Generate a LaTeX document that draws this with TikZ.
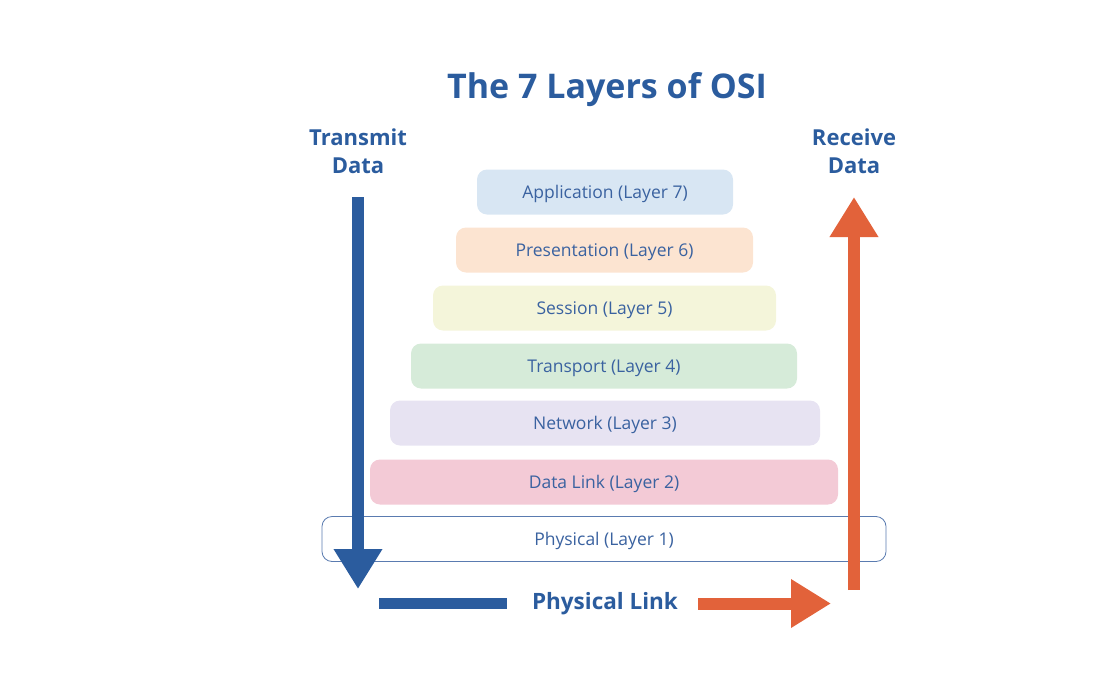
\documentclass[tikz,border=0pt]{standalone}
\usepackage{fontspec}
\setmainfont{Open Sans}
\usepackage{tikz}
\usetikzlibrary{
  arrows.meta,
  positioning,
  }
\definecolor{osiblue}{HTML}{2B5C9E}
\definecolor{osiorange}{HTML}{E2623A}
\definecolor{ositext}{HTML}{3A62A0}
\definecolor{appcol}{HTML}{D8E6F3}
\definecolor{prescol}{HTML}{FCE4D1}
\definecolor{sesscol}{HTML}{F4F5DA}
\definecolor{transcol}{HTML}{D6EBD9}
\definecolor{netcol}{HTML}{E7E3F2}
\definecolor{linkcol}{HTML}{F3CAD6}
\definecolor{physcol}{HTML}{FFFFFF}
\definecolor{physline}{HTML}{5A7BB0}

\begin{document}
\begin{tikzpicture}
                [x=1pt, y=-1pt,
                 layerbox/.style={rounded corners=10pt, minimum height=45pt,
                   inner sep=0pt, text depth=0pt, text=ositext, font=\fontsize{17.5}{20}\selectfont},
                 headtext/.style={text=osiblue, font=\fontsize{22}{28}\selectfont\bfseries,
                   align=center},
                 bigarrow/.style={line width=12pt,
                   -{Triangle[width=46pt, length=40pt]}}]
                \useasboundingbox (0,0) rectangle (1103,672);

                \node[text=osiblue, font=\fontsize{34}{40}\selectfont\bfseries] (title) at (607,90) {The 7 Layers of OSI};
                \node[headtext] (tx) at (358,151) {Transmit\\Data};
                \node[headtext] (rx) at (854,151) {Receive\\Data};

                % layers, top to bottom
                \foreach \n/\txt/\col/\x/\w/\y in {
                    7/Application/appcol/605/256/192,
                    6/Presentation/prescol/604.5/297/250,
                    5/Session/sesscol/604.5/343/308,
                    4/Transport/transcol/604/386/366,
                    3/Network/netcol/605/430/423,
                    2/Data Link/linkcol/604/468/482}
                    \node[layerbox, fill=\col, minimum width=\w pt] (l\n) at (\x,\y) {\txt\ (Layer \n)};
                \node[layerbox, draw=physline, line width=0.8pt, fill=physcol, minimum width=564pt] (l1) at (604,539) {Physical (Layer 1)};

                \node[text=osiblue, font=\fontsize{22.5}{26}\selectfont\bfseries] (plink) at (605,604) {Physical Link};

                \coordinate (txs) at (358,197);
                \coordinate (txe) at (358,589);
                \coordinate (rxs) at (854,590);
                \coordinate (rxe) at (854,197);
                \coordinate (bls) at (379,603.5);
                \coordinate (ble) at (507,603.5);
                \coordinate (ors) at (698,603.5);
                \coordinate (ore) at (831,603.5);

                \draw[bigarrow, osiblue] (txs) -- (txe);
                \draw[bigarrow, osiorange] (rxs) -- (rxe);
                \draw[line width=11pt, osiblue] (bls) -- (ble);
                \draw[bigarrow, osiorange] (ors) -- (ore);

            \end{tikzpicture}
\end{document}
